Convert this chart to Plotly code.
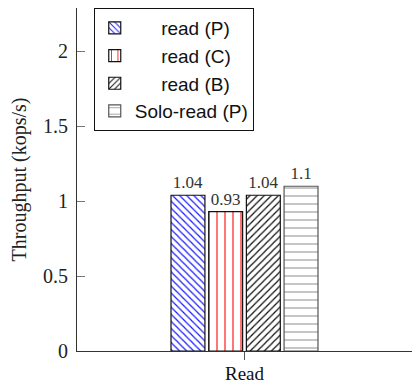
import plotly.graph_objects as go

categories = ["Read"]
series_names = ["read (P)", "read (C)", "read (B)", "Solo-read (P)"]
legend_labels = ["&nbsp;&nbsp;&nbsp;&nbsp;&nbsp;read (P)", "&nbsp;&nbsp;&nbsp;&nbsp;&nbsp;read (C)",
                 "&nbsp;&nbsp;&nbsp;&nbsp;&nbsp;read (B)", "Solo-read (P)"]
values = [[1.04], [0.93], [1.04], [1.1]]
value_labels = [["1.04"], ["0.93"], ["1.04"], ["1.1"]]
ytick_vals = [0, 0.5, 1, 1.5, 2]
ytick_text = ["0", "0.5", "1", "1.5", "2"]

patterns = ["\\", "|", "/", "-"]
fg_colors = ["#1f1fff", "#ff1a1a", "#111111", "#a0a0a0"]
line_colors = ["#111111", "#111111", "#111111", "#555555"]
pattern_sizes = [5, 8, 5, 8]
pattern_solidity = [0.25, 0.15, 0.25, 0.15]

SERIF = "Liberation Serif"
SANS = "Liberation Sans"

fig = go.Figure()
for i, name in enumerate(series_names):
    fig.add_trace(go.Bar(
        x=categories, y=values[i], name=legend_labels[i],
        text=value_labels[i], textposition="outside",
        textfont=dict(family=SERIF, size=17, color="#333333"),
        cliponaxis=False,
        marker=dict(
            color="white",
            line=dict(color=line_colors[i], width=1.2),
            pattern=dict(shape=patterns[i], fgcolor=fg_colors[i], bgcolor="white",
                         size=pattern_sizes[i], solidity=pattern_solidity[i], fillmode="replace"),
        ),
    ))

fig.update_layout(
    width=412, height=386,
    margin=dict(l=77, r=0, t=8, b=35, autoexpand=False),
    paper_bgcolor="white", plot_bgcolor="white",
    barmode="group", bargap=0.55, bargroupgap=0.1,
    showlegend=True,
    legend=dict(x=0.05, y=1.0, xanchor="left", yanchor="top",
                bordercolor="#111111", borderwidth=1, bgcolor="white",
                font=dict(family=SANS, size=19, color="#111111"),
                tracegroupgap=0, itemwidth=30),
    xaxis=dict(showline=True, linecolor="#333333", linewidth=1, automargin=False,
               ticks="outside", ticklen=8, tickcolor="#555555",
               tickfont=dict(family=SERIF, size=19, color="#111111"),
               ticklabelstandoff=-3,
               showgrid=False, zeroline=False),
    yaxis=dict(range=[0, 2.29], showline=True, linecolor="#333333", linewidth=1, automargin=False,
               ticks="inside", ticklen=8, tickcolor="#777777",
               tickvals=ytick_vals, ticktext=ytick_text,
               tickfont=dict(family=SERIF, size=20, color="#222222"),
               ticklabelstandoff=4,
               title=dict(text="Throughput (kops/s)", font=dict(family=SERIF, size=20, color="#222222"),
                          standoff=11),
               showgrid=False, zeroline=False),
)

fig.write_html("out.html", config={"displayModeBar": False},
               post_script="document.body.style.margin='0';document.body.style.padding='0';")
